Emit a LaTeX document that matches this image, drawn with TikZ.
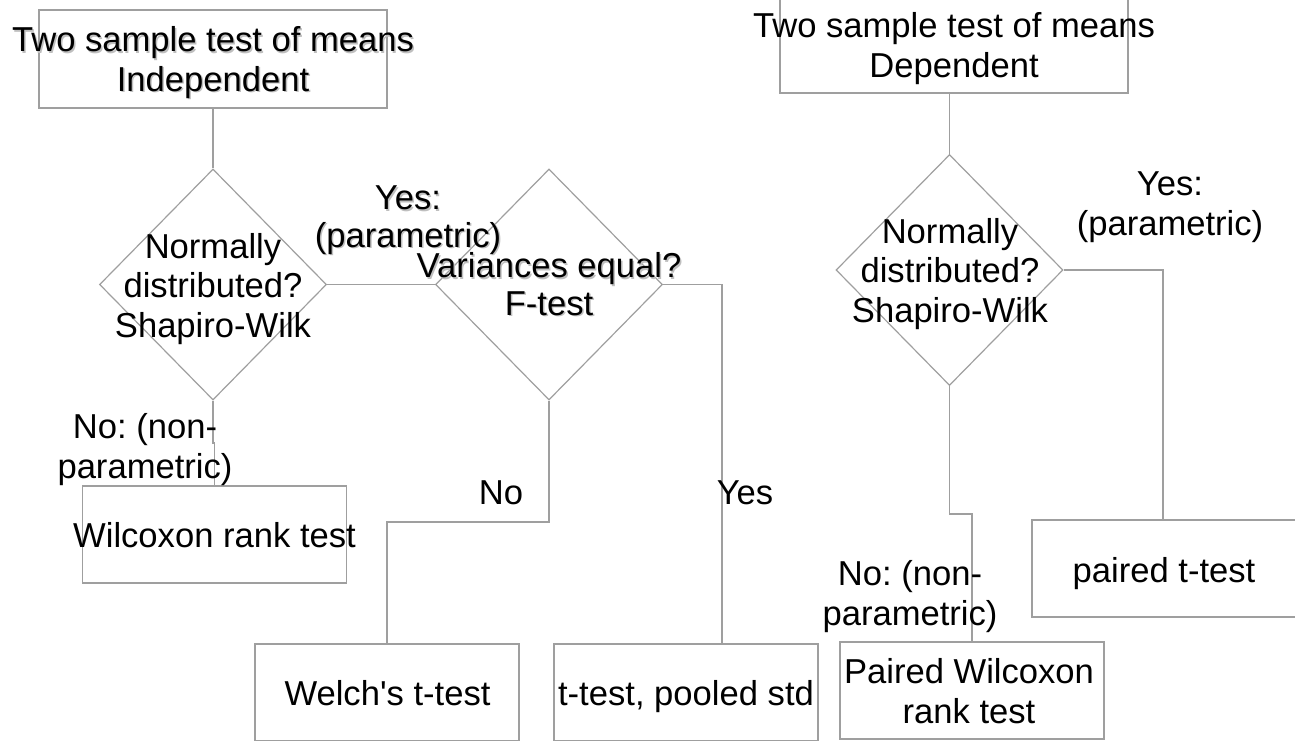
\documentclass[tikz,border=0pt]{standalone}
\usepackage{fontspec}
\setmainfont{Liberation Sans}[Ligatures=TeXOff]
\usetikzlibrary{shapes.geometric}
\begin{document}
\begin{tikzpicture}[x=0.5pt,y=-0.5pt,
  line/.style={draw=gray!75, line width=0.6pt},
  topbox/.style={line, rectangle, inner sep=0pt, minimum width=174pt, minimum height=49pt},
  box/.style={line, rectangle, inner sep=0pt, minimum width=132pt, minimum height=48.5pt},
  dia/.style={line, diamond, inner sep=0pt, minimum width=113.5pt, minimum height=115.5pt},
  txt/.style={font=\fontsize{17.3}{19.6}\selectfont\frenchspacing, align=center, anchor=base, inner sep=0pt, text=black},
  txtb/.style={txt, font=\fontsize{17.3}{18.6}\selectfont\frenchspacing},
  shd/.style={text=gray!50}]
\path[use as bounding box] (0,0) rectangle (1295,740);
% shapes
\node[topbox] (tl) at (213,59) {};
\node[topbox] (dep) at (954,44) {};
\node[dia] (d1) at (213,284.5) {};
\node[dia] (d2) at (549,284.5) {};
\node[dia] (d3) at (949.5,270) {};
\node[box] (wil) at (214.5,534.5) {};
\node[box] (welch) at (387,692.5) {};
\node[box] (tt) at (686,692.5) {};
\node[box] (pw) at (972,690.5) {};
\node[box] (pt) at (1164,568.5) {};
% connectors
\draw[line] (tl.south) -- (d1.north);
\draw[line] (d1.east) -- (d2.west);
\draw[line] (d1.south) -- (d1.south |- 0,443) -| (wil.north);
\draw[line] (d2.south) -- (d2.south |- 0,522) -| (welch.north);
\draw[line] (d2.east) -| (tt.north -| 722,0);
\draw[line] (d3.north |- dep.south) -- (d3.north);
\draw[line] (d3.east) -| (pt.north -| 1163,0);
\draw[line] (d3.south) -- (d3.south |- 0,514) -| (pw.north);
% texts with shadow (anchor = baseline of last line)
\node[txt,shd] (tlS) at (214.5,92.5) {Two sample test of means\\Independent};
\node[txt] (tlT) at (213,91) {Two sample test of means\\Independent};
\node[txtb,shd] (yesLS) at (409.5,248.5) {Yes:\\(parametric)};
\node[txtb] (yesL) at (408,247) {Yes:\\(parametric)};
\node[txtb,shd] (d2S) at (550.5,316.5) {Variances equal?\\F-test};
\node[txtb] (d2T) at (549,315) {Variances equal?\\F-test};
% plain texts
\node[txt] (d1T) at (213,337) {Normally\\distributed?\\Shapiro-Wilk};
\node[txt] (depT) at (954,77) {Two sample test of means\\Dependent};
\node[txt] (d3T) at (950,322) {Normally\\distributed?\\Shapiro-Wilk};
\node[txt] (yesR) at (1170,235) {Yes:\\(parametric)};
\node[txt] (noL) at (145,478) {No: (non-\\parametric)};
\node[txt] (noR) at (910,625) {No: (non-\\parametric)};
\node[txt] (noM) at (501,504) {No};
\node[txt] (yesM) at (745,504) {Yes};
\node[txt] (wilT) at (214.5,547) {Wilcoxon rank test};
\node[txt] (welchT) at (387.5,705) {Welch's t-test};
\node[txt] (ttT) at (686,705) {t-test, pooled std};
\node[txt] (ptT) at (1164,582) {paired t-test};
\node[txt] (pwT) at (969,723) {Paired Wilcoxon\\rank test};
\end{tikzpicture}
\end{document}
